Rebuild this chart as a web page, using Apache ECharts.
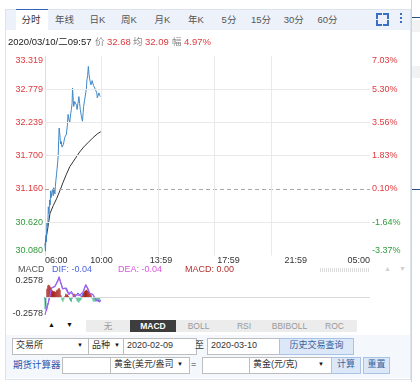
<!DOCTYPE html>
<html><head><meta charset="utf-8">
<script src="https://cdn.jsdelivr.net/npm/echarts@6/dist/echarts.min.js"></script>
<style>
html,body{margin:0;padding:0;width:420px;height:382px;overflow:hidden;background:#fff;font-family:'Liberation Sans','Noto Sans CJK SC',sans-serif;}
.a{position:absolute;box-sizing:border-box;}
#frame{left:5px;top:9px;width:406px;height:371px;border:1px solid #dde3ec;}
#tabbar{left:6px;top:10px;width:404px;height:20px;background:#edf2fa;}
#seltab{left:16px;top:9px;width:32px;height:21px;background:#fff;border-top:1px solid #3466b8;}
.tab{position:absolute;top:10px;width:40px;height:20px;line-height:20px;font-size:9.5px;color:#555;text-align:center;}
.corner{position:absolute;width:4px;height:4px;border-color:#3a6fc4;border-style:solid;border-width:0;}
.dot{position:absolute;width:2px;height:2px;background:#3a6fc4;left:400px;}
#chart{position:absolute;left:0;top:0;width:420px;height:382px;z-index:5;}
.btab{position:absolute;top:320px;height:12px;line-height:12px;font-size:8.5px;color:#999;text-align:center;background:#ececec;border-right:1px solid #fff;}
.box{position:absolute;height:15px;line-height:13px;font-size:9px;color:#333;background:#fff;border:1px solid #bdbdbd;padding-left:3px;white-space:nowrap;overflow:hidden;}
.arrow{position:absolute;font-size:6px;color:#111;top:0;}
.txt{position:absolute;font-size:9px;color:#333;line-height:15px;white-space:nowrap;}
.btn{position:absolute;height:15px;line-height:13px;font-size:9px;text-align:center;border:1px solid #a9c3e6;background:#dce8f8;color:#3a5f9a;}
#rows{left:6px;top:335px;width:404px;height:43px;background:#f4f7fc;}
</style></head>
<body>
<div id="frame" class="a"></div>
<div id="tabbar" class="a"></div>
<div id="seltab" class="a"></div>
<div class="tab" style="left:11px;color:#333">分时</div>
<div class="tab" style="left:44.5px">年线</div>
<div class="tab" style="left:77.3px">日K</div>
<div class="tab" style="left:109px">周K</div>
<div class="tab" style="left:142.5px">月K</div>
<div class="tab" style="left:175.8px">年K</div>
<div class="tab" style="left:209px">5分</div>
<div class="tab" style="left:241px">15分</div>
<div class="tab" style="left:273.8px">30分</div>
<div class="tab" style="left:307.5px">60分</div>
<div class="corner" style="left:376px;top:13px;border-top-width:2px;border-left-width:2px"></div>
<div class="corner" style="left:383px;top:13px;border-top-width:2px;border-right-width:2px"></div>
<div class="corner" style="left:376px;top:20px;border-bottom-width:2px;border-left-width:2px"></div>
<div class="corner" style="left:383px;top:20px;border-bottom-width:2px;border-right-width:2px"></div>
<div class="dot" style="top:13px"></div>
<div class="dot" style="top:17px"></div>
<div class="dot" style="top:21px"></div>

<div class="a" style="left:411px;top:0;width:1px;height:382px;background:#cfd4da"></div>
<div class="a" style="left:412px;top:17px;width:8px;height:1px;background:#2b4f8f"></div>
<div class="a" style="left:412px;top:189px;width:8px;height:1px;background:#2b4f8f"></div>
<div class="a" style="left:412px;top:20px;width:8px;height:12px;background:#f2f2f2"></div>
<div class="a" style="left:412px;top:66px;width:8px;height:12px;background:#f2f2f2"></div>

<div class="a" style="left:320px;top:268px;width:50px;height:4px;background:repeating-linear-gradient(90deg,#dcdcdc 0 1px,transparent 1px 2px)"></div>
<div class="a" style="left:384px;top:265px;font-size:7px;color:#d0d0d0">▲</div>
<div class="a" style="left:399px;top:265px;font-size:7px;color:#d0d0d0">▼</div>

<div class="a" style="left:48px;top:321px;font-size:7px;color:#111">▲</div>
<div class="a" style="left:66px;top:321px;font-size:7px;color:#111">▼</div>
<div class="btab" style="left:86px;width:44px">无</div>
<div class="btab" style="left:130px;width:46px;background:#3d3d3d;color:#fff;font-weight:bold">MACD</div>
<div class="btab" style="left:176px;width:45px">BOLL</div>
<div class="btab" style="left:221px;width:46px">RSI</div>
<div class="btab" style="left:267px;width:45px">BBIBOLL</div>
<div class="btab" style="left:312px;width:45px">ROC</div>

<div id="rows" class="a"></div>
<div class="box" style="left:12px;top:338px;width:73px">交易所<span class="arrow" style="left:64px">▼</span></div>
<div class="box" style="left:88px;top:338px;width:34px">品种<span class="arrow" style="left:25px">▼</span></div>
<div class="box" style="left:123px;top:338px;width:69px">2020-02-09</div>
<div class="txt" style="left:195px;top:338px">至</div>
<div class="box" style="left:207px;top:338px;width:68px">2020-03-10</div>
<div class="btn" style="left:279px;top:338px;width:73px">历史交易查询</div>

<div class="txt" style="left:13px;top:357px;color:#2456b0;font-size:9.5px">期货计算器</div>
<div class="box" style="left:62px;top:357px;width:45px"></div>
<div class="box" style="left:110px;top:357px;width:75px">黄金(美元/盎司<span class="arrow" style="left:66px">▼</span></div>
<div class="txt" style="left:191px;top:357px">=</div>
<div class="box" style="left:202px;top:357px;width:45px"></div>
<div class="box" style="left:249px;top:357px;width:79px">黄金(元/克)<span class="arrow" style="left:68px">▼</span></div>
<div class="btn" style="left:331px;top:357px;width:28px">计算</div>
<div class="btn" style="left:363px;top:357px;width:25px">重置</div>

<div id="chart"></div>
<script>
// ---------- data ----------
const timeTickMinutes = [0, 240, 493, 779, 1065, 1380];
const timeTickLabels  = ['06:00', '10:00', '13:59', '17:59', '21:59', '05:00'];
const timeGridMinutes = [240, 480, 720, 960];
const sessionMinutes  = 1380;

const priceTicks      = [30.080, 30.620, 31.160, 31.700, 32.239, 32.779, 33.319];
const priceTickLabels = ['30.080', '30.620', '31.160', '31.700', '32.239', '32.779', '33.319'];
const pctTickLabels   = ['-3.37%', '-1.64%', '0.10%', '1.83%', '3.56%', '5.30%', '7.03%'];
const midPrice = 31.160;

const priceMinutes = [0,2,4,6,8,10,12,14,17,20,22,24,26,28,30,32,35,37,39,42,44,46,49,51,54,56,58,60,63,66,69,72,75,78,80,84,88,91,95,98,102,105,109,112,115,117,120,122,126,131,134,136,140,144,147,150,154,159,162,164,168,173,176,178,181,184,187,189,192,195,197,200,203,206,209,211,214,218,220,222,225,229,232,235,237];
const priceValues  = [30.25,30.15,30.41,30.30,30.62,30.65,30.55,30.87,30.76,30.98,30.90,31.13,31.02,31.00,31.12,31.16,31.05,31.18,31.16,31.08,31.20,31.29,31.40,31.48,31.60,31.70,31.95,32.15,32.05,31.89,31.93,31.84,31.81,31.88,31.92,32.00,31.98,32.05,32.20,32.37,32.28,32.24,32.38,32.45,32.55,32.80,32.60,32.50,32.58,32.61,32.52,32.45,32.55,32.66,32.55,32.45,32.35,32.26,32.40,32.50,32.60,32.72,32.80,32.93,33.00,33.15,33.02,32.96,32.90,32.85,32.85,32.92,32.91,32.84,32.86,32.80,32.78,32.82,32.72,32.64,32.66,32.72,32.68,32.66,32.68];

const avgMinutes = [0,6,13,21,35,49,63,77,91,105,119,133,147,164,182,203,224,237];
const avgValues  = [30.25,30.39,30.55,30.76,30.89,31.00,31.13,31.27,31.40,31.52,31.60,31.68,31.76,31.84,31.91,31.99,32.06,32.09];

const macdRange = 0.2578;
const histMinutes = [0,4,8,12,16,20,24,28,32,36,40,44,48,52,56,60,64,68,72,76,80,84,88,92,96,100,104,108,112,116,120,124,128,132,136,140,144,148,152,156,160,164,168,172,176,180,184,188,192,196,200,204,208,212,216,220,224,228,232,236];
const histValues  = [-0.15,-0.12,0.10,0.14,0.15,0.14,0.12,0.10,0.08,0.07,0.07,0.06,0.08,0.09,0.10,0.11,0.09,0.02,-0.04,-0.06,-0.03,0.01,0.04,0.03,0.03,0.01,-0.03,-0.05,-0.06,-0.02,0.03,0.04,0.03,-0.02,-0.05,-0.06,-0.07,-0.05,-0.04,-0.02,0.02,0.05,0.07,0.08,0.09,0.08,0.07,0.06,0.04,0.02,-0.02,-0.05,-0.06,-0.05,-0.06,-0.05,-0.04,-0.05,-0.03,-0.01];

const difMinutes = [0,3,6,10,14,28,42,60,75,91,102,112,126,140,155,173,189,203,218,237];
const difValues  = [0.00,-0.10,-0.17,-0.12,-0.07,0.11,0.13,0.24,0.10,0.11,0.03,0.07,0.00,0.05,0.00,0.15,0.05,0.03,-0.04,-0.04];

const deaMinutes = [0,14,28,42,49,55,60,65,70,75,80,86,91,96,102,107,112,119,126,133,140,147,155,161,168,173,178,183,189,196,203,210,218,225,232,237];
const deaValues  = [-0.22,-0.07,0.11,0.13,0.13,0.20,0.25,0.19,0.15,0.10,0.09,0.11,0.11,0.06,0.03,0.06,0.07,0.03,0.00,0.03,0.05,0.02,0.00,0.06,0.11,0.15,0.15,0.10,0.05,0.04,0.03,0.00,-0.04,-0.05,-0.06,-0.04];

const infoTime = '2020/03/10/二09:57';
const infoPrice = '32.68', infoAvg = '32.09', infoPct = '4.97%';
const lastDif = '-0.04', lastDea = '-0.04', lastMacd = '0.00';

// ---------- styles ----------
const FONT = "'Liberation Sans','Noto Sans CJK SC',sans-serif";
const RED = '#e0393e', GREEN = '#2f9a3a', GRID = '#e9e9e9';
const pair = (xs, ys) => xs.map((x, i) => [x, ys[i]]);
const nearestIdx = (arr, v) => { let b = 0; arr.forEach((a, i) => { if (Math.abs(a - v) < Math.abs(arr[b] - v)) b = i; }); return b; };

const chart = echarts.init(document.getElementById('chart'));
const txt = (text, x, y, fill, extra) => Object.assign({type: 'text', x: x, y: y, silent: true, z: 10,
  style: Object.assign({text: text, fill: fill, fontSize: 9.5, fontFamily: FONT, verticalAlign: 'middle'}, extra || {})});

chart.setOption({
  animation: false,
  textStyle: {fontFamily: FONT},
  grid: [
    {left: 45, right: 50, top: 56, height: 199.5},
    {left: 45, right: 50, top: 276, height: 42}
  ],
  xAxis: [
    {type: 'value', gridIndex: 0, min: 0, max: sessionMinutes,
     axisLine: {show: false}, axisTick: {show: false}, splitLine: {show: false},
     axisLabel: {customValues: timeTickMinutes, fontSize: 9, color: '#333', margin: 1,
       alignMinLabel: 'left', alignMaxLabel: 'right',
       formatter: v => timeTickLabels[nearestIdx(timeTickMinutes, v)]}},
    {type: 'value', gridIndex: 1, min: 0, max: sessionMinutes,
     axisLine: {show: false}, axisTick: {show: false}, splitLine: {show: false}, axisLabel: {show: false}}
  ],
  yAxis: [
    {type: 'value', gridIndex: 0, position: 'left', min: priceTicks[0], max: priceTicks[priceTicks.length - 1],
     axisLine: {show: true, lineStyle: {color: '#dedede'}}, axisTick: {show: false}, splitLine: {show: false},
     axisLabel: {customValues: priceTicks, margin: 2, fontSize: 9,
       verticalAlignMinLabel: 'bottom', verticalAlignMaxLabel: 'top',
       formatter: v => { const i = nearestIdx(priceTicks, v); return (priceTicks[i] >= midPrice ? '{r|' : '{g|') + priceTickLabels[i] + '}'; },
       rich: {r: {color: RED, fontSize: 9}, g: {color: GREEN, fontSize: 9}}}},
    {type: 'value', gridIndex: 0, position: 'right', min: priceTicks[0], max: priceTicks[priceTicks.length - 1],
     axisLine: {show: false}, axisTick: {show: false}, splitLine: {show: false},
     axisLabel: {customValues: priceTicks, margin: 2, fontSize: 9,
       verticalAlignMinLabel: 'bottom', verticalAlignMaxLabel: 'top',
       formatter: v => { const i = nearestIdx(priceTicks, v); return (priceTicks[i] >= midPrice ? '{r|' : '{g|') + pctTickLabels[i] + '}'; },
       rich: {r: {color: RED, fontSize: 9}, g: {color: GREEN, fontSize: 9}}}},
    {type: 'value', gridIndex: 1, min: -macdRange, max: macdRange,
     axisLine: {show: false}, axisTick: {show: false}, splitLine: {show: false},
     axisLabel: {customValues: [-macdRange, macdRange], margin: 2, fontSize: 9, color: '#333',
       verticalAlignMinLabel: 'bottom', verticalAlignMaxLabel: 'top',
       formatter: v => String(Math.round(v * 10000) / 10000)}}
  ],
  series: [
    {type: 'line', name: 'avg', xAxisIndex: 0, yAxisIndex: 0, z: 2, showSymbol: false,
     data: pair(avgMinutes, avgValues), lineStyle: {color: '#333', width: 1},
     markLine: {silent: true, symbol: ['none', 'none'], label: {show: false}, animation: false,
       data: priceTicks.slice(1).map(v => ({yAxis: v, lineStyle: v === midPrice
              ? {color: '#a8a8a8', type: [4, 3], width: 1} : {color: GRID, type: 'solid', width: 1}}))
         .concat(timeGridMinutes.map(m => ({xAxis: m, lineStyle: {color: GRID, type: 'solid', width: 1}})))}},
    {type: 'line', name: 'price', xAxisIndex: 0, yAxisIndex: 0, z: 3, showSymbol: false,
     data: pair(priceMinutes, priceValues), lineStyle: {color: '#3f88c8', width: 1}},
    {type: 'bar', name: 'MACD', xAxisIndex: 1, yAxisIndex: 2, barWidth: 1, z: 2,
     data: pair(histMinutes, histValues),
     itemStyle: {color: p => p.value[1] >= 0 ? '#a8231d' : '#45b98a'},
     markLine: {silent: true, symbol: ['none', 'none'], label: {show: false}, animation: false,
       lineStyle: {color: '#dadada', type: 'solid', width: 1},
       data: [{yAxis: 0}, {yAxis: macdRange}]}},
    {type: 'line', name: 'DIF', xAxisIndex: 1, yAxisIndex: 2, z: 3, showSymbol: false,
     data: pair(difMinutes, difValues), lineStyle: {color: '#4a6fe0', width: 1}},
    {type: 'line', name: 'DEA', xAxisIndex: 1, yAxisIndex: 2, z: 4, showSymbol: false,
     data: pair(deaMinutes, deaValues), lineStyle: {color: '#a85cf0', width: 1.2}}
  ],
  graphic: [
    txt(infoTime, 8, 42, '#222'),
    txt('价', 95, 42, '#888'),
    txt(infoPrice, 107, 42, RED),
    txt('均', 133, 42, '#888'),
    txt(infoAvg, 145, 42, RED),
    txt('幅', 172, 42, '#888'),
    txt(infoPct, 184, 42, RED),
    txt('MACD', 18, 269.5, '#555', {fontSize: 9}),
    txt('DIF: ' + lastDif, 52, 269.5, '#4a66dd', {fontSize: 9}),
    txt('DEA: ' + lastDea, 118, 269.5, '#dd55dd', {fontSize: 9}),
    txt('MACD: ' + lastMacd, 185, 269.5, '#b03030', {fontSize: 9})
  ]
});
</script>
</body></html>
